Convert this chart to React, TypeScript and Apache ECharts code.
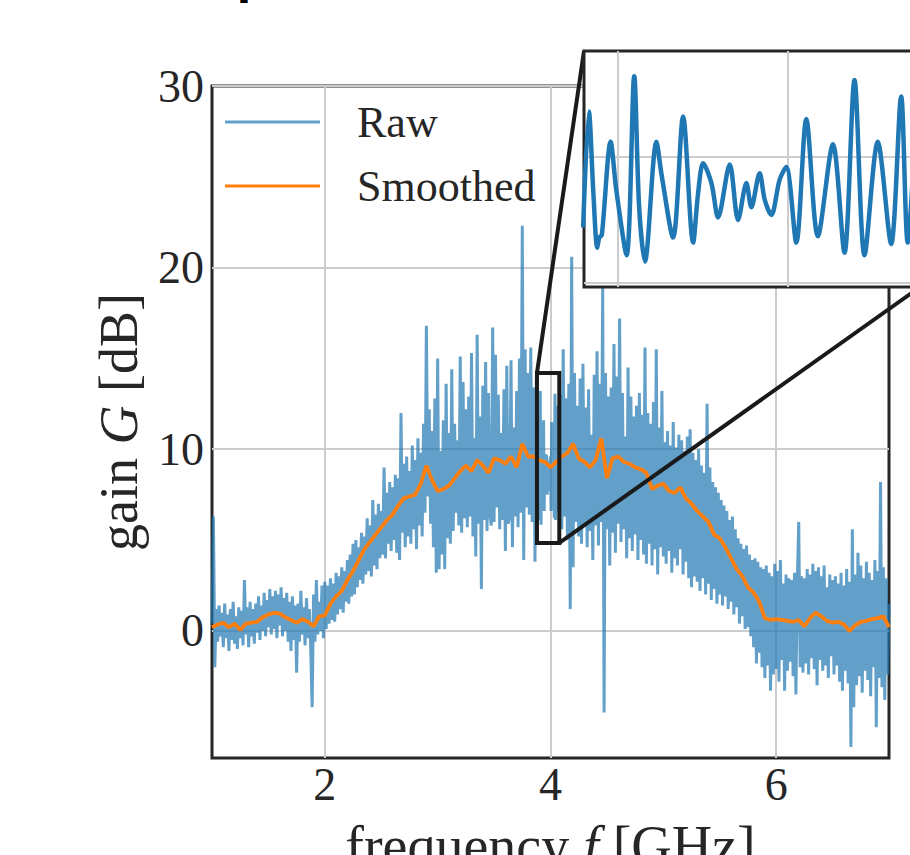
import { useEffect, useRef } from 'react';
import * as echarts from 'echarts';

// ---------- data ----------
// Raw gain [dB], sampled every 0.0125 GHz
const RAW_STEP = 0.0125;
const RAW_A_START = 1.0; // 1.000 .. 3.875 GHz
const rawGainA = [
  0.4, 6.3, -2.0, 1.2, -0.6, 1.4, -0.3, 1.0, -0.9, 1.5, -0.4, 0.9, -1.1, 1.2, -0.5, 1.6, -0.7, 0.8, -1.0, 1.3,
  -0.4, 1.1, -0.8, 2.8, -0.2, 1.3, -0.9, 1.6, -0.3, 1.2, -0.7, 1.5, -0.1, 1.9, -0.5, 1.4, 0.0, 2.1, -0.3, 1.7,
  0.2, 2.3, -0.2, 1.9, 0.1, 2.2, -0.4, 2.0, 0.3, 2.4, -0.3, 1.8, 0.0, 2.1, -0.6, 1.6, -1.1, 1.9, -0.5, 1.4,
  -2.3, 1.5, -0.6, 2.2, -0.2, 1.3, -0.8, 1.8, -0.4, 1.2, -1.0, -4.2, 2.0, -0.6, 2.8, -0.2, 1.6, 0.0, 2.5, -0.4,
  2.7, 0.1, 2.5, 0.4, 2.9, 0.6, 2.6, 0.5, 3.2, 0.9, 3.0, 1.2, 3.5, 1.0, 3.3, 1.6, 3.9, 1.5, 4.2, 1.9,
  4.8, 2.0, 5.0, 2.4, 4.6, 2.8, 5.4, 2.6, 5.2, 3.1, 6.2, 3.3, 5.8, 3.0, 7.2, 3.6, 6.4, 3.4, 7.0, 4.0,
  6.6, 4.2, 9.0, 4.0, 7.6, 4.8, 8.2, 4.4, 7.9, 5.0, 8.6, 4.3, 8.4, 3.9, 12.0, 5.4, 9.2, 4.6, 9.6, 5.2,
  8.8, 4.8, 10.2, 5.6, 9.4, 4.5, 10.6, 5.8, 9.8, 5.2, 11.4, 6.5, 16.8, 7.4, 12.2, 5.9, 11.0, 4.6, 12.8, 3.2,
  15.0, 3.4, 9.9, 4.2, 11.6, 3.4, 13.6, 5.1, 10.9, 4.8, 14.4, 5.5, 11.4, 6.5, 10.5, 5.8, 15.1, 5.4, 13.7, 6.2,
  12.2, 5.7, 12.9, 6.3, 15.3, 5.2, 10.6, 4.1, 16.3, 5.9, 11.8, 2.3, 13.5, 6.1, 14.8, 5.5, 13.1, 6.4, 5.8, 16.7,
  6.0, 15.2, 6.8, 13.0, 5.6, 10.9, 6.1, 13.3, 4.4, 14.6, 5.9, 6.2, 14.9, 4.6, 11.2, 6.3, 13.2, 5.7, 15.0, 6.5,
  22.3, 3.9, 15.5, 6.8, 14.2, 6.4, 15.6, 6.0, 13.4, 3.8, 13.9,
];
const RAW_B_START = 4.0875; // 4.0875 .. 7.000 GHz
const rawGainB = [
  13.0, 5.6, 15.5, 6.3, 12.8, 5.0, 13.6, 1.2, 20.6, 3.5, 14.2, 6.0, 12.4,
  5.2, 13.9, 4.8, 14.7, 5.9, 12.3, 4.6, 13.3, 5.5, 10.8, 3.9, 14.1, 5.8, 15.4, 4.7, 13.6, 6.0, 18.9, -4.5, 14.2,
  5.6, 12.9, 3.6, 13.4, 5.4, 15.8, 4.3, 14.0, 5.9, 17.2, 4.9, 13.1, 5.6, 10.7, 4.0, 14.5, 5.1, 12.9, 4.4, 11.8,
  5.3, 12.4, 3.9, 13.1, 5.0, 11.9, 4.2, 15.6, 3.7, 12.0, 4.8, 11.4, 3.6, 12.6, 4.5, 15.5, 3.1, 11.2, 4.6, 13.2,
  4.1, 10.4, 3.7, 11.0, 4.4, 10.2, 3.2, 11.5, 4.0, 10.1, 3.6, 10.8, 4.5, 10.5, 3.1, 9.9, 3.8, 10.7, 2.9, 11.1,
  2.4, 9.8, 3.0, 9.4, 2.7, 10.0, 2.2, 9.1, 2.9, 8.7, 2.0, 12.5, 2.6, 9.0, 1.7, 8.2, 2.3, 7.9, 1.5, 7.6,
  2.0, 7.2, 1.4, 6.9, 1.9, 6.6, 1.2, 6.1, 1.6, 6.3, 0.9, 5.6, 1.3, 5.1, 0.4, 4.8, 0.8, 4.5, 0.1, 4.7,
  0.2, 4.2, -0.3, 3.9, -0.9, 4.0, -1.8, 3.8, -1.2, 3.5, -2.0, 3.4, -2.6, 3.6, -1.9, 3.2, -3.3, 3.0, -2.4, 3.7,
  -2.1, 3.3, -2.8, 3.9, -1.6, 2.6, -3.3, 3.1, -2.2, 2.9, -1.7, 2.8, -2.5, 3.2, -3.5, 2.7, 6.0, -2.0, 3.0, -2.3,
  2.9, -1.8, 3.4, -2.4, 3.1, -1.5, 3.7, -2.1, 3.3, -3.0, 3.5, -1.6, 3.0, -2.2, 3.6, -1.9, 2.4, -2.6, 3.1, -1.4,
  2.8, -2.4, 3.0, -1.9, 2.6, -2.8, 3.2, -3.3, 2.5, -2.2, 3.4, -2.9, 2.7, -6.4, 5.6, -4.2, 3.1, -3.0, 4.3, -2.5,
  3.6, -3.4, 2.9, -2.2, 3.8, -2.7, 3.2, -3.6, 2.8, -2.0, 3.9, -5.3, 3.3, -2.6, 8.2, -3.1, 3.5, -3.8, 2.9, -2.4,
  1.5,
];
// Fine-resolution raw data inside the zoomed window (shown in the inset)
const insetFreq = [
  3.8795, 3.8829, 3.8855, 3.8878, 3.889, 3.8905, 3.8957, 3.899, 3.9051, 3.9096, 3.9125, 3.9159, 3.9227, 3.9257,
  3.9325, 3.9384, 3.9443, 3.9473, 3.9502, 3.9551, 3.959, 3.9659, 3.9708, 3.9757, 3.9786, 3.9835, 3.9865, 3.9904,
  3.9953, 3.9992, 4.0051, 4.011, 4.0178, 4.0267, 4.0335, 4.0394, 4.0453, 4.0531, 4.061, 4.0669, 4.0708, 4.076, 4.08,
];
const insetGain = [
  7.2, 11.8, 8.6, 6.4, 6.8, 6.9, 10.6, 8.7, 6.1, 13.2, 8.0, 5.85, 10.6, 9.3,
  6.8, 11.6, 6.6, 8.6, 9.75, 8.96, 7.6, 9.7, 7.5, 8.96, 8.0, 9.35, 8.3, 7.7,
  9.1, 9.6, 6.6, 11.5, 6.85, 10.5, 6.2, 13.05, 6.1, 10.6, 6.55, 12.4, 6.6, 10.8, 7.0,
];
// Smoothed gain [dB], every 0.05 GHz from 1.0 to 7.0
const SMOOTH_START = 1.0;
const SMOOTH_STEP = 0.05;
const smoothedGain = [
  0.2, 0.35, 0.45, 0.2, 0.4, 0.05, 0.4, 0.45, 0.5, 0.75,
  0.9, 1.0, 0.95, 0.75, 0.6, 0.45, 0.65, 0.5, 0.25, 0.8,
  0.85, 1.5, 1.9, 2.2, 2.8, 3.3, 3.9, 4.5, 4.9, 5.3,
  5.7, 6.1, 6.4, 6.9, 7.3, 7.4, 7.5, 8.1, 9.1, 8.3,
  7.7, 7.8, 8.0, 8.4, 8.8, 9.1, 8.8, 9.4, 9.1, 8.7,
  9.5, 9.4, 9.2, 9.6, 9.0, 10.3, 9.6, 9.6, 9.4, 9.3,
  9.0, 9.3, 9.6, 9.8, 10.3, 9.5, 9.3, 9.0, 9.4, 10.6,
  8.4, 9.5, 9.6, 9.3, 9.2, 9.0, 8.9, 8.7, 7.8, 8.0,
  8.1, 7.7, 7.6, 7.9, 7.3, 7.0, 6.6, 6.3, 6.0, 5.3,
  5.1, 4.6, 4.0, 3.4, 3.0, 2.4, 2.1, 1.6, 0.7, 0.6,
  0.65, 0.6, 0.55, 0.5, 0.6, 0.25, 0.7, 1.0, 0.8, 0.55,
  0.45, 0.5, 0.35, 0.0, 0.3, 0.5, 0.55, 0.65, 0.7, 0.8,
  0.2,
];
const seriesNames = ['Raw', 'Smoothed'];
const xTicks = [2, 4, 6];
const yTicks = [0, 10, 20, 30];
const X_RANGE = [1, 7];
const Y_RANGE = [-7, 30];
const INSET_X = [3.88, 4.078];
const INSET_Y = [4.84, 14.2];
const insetXTicks = [3.9, 4.0];
const insetYTicks = [5, 10];
const TITLE = 'Gain spectrum, raw and smoothed';

const SERIF = '"Liberation Serif", "Times New Roman", serif';
const TXT = '#262626';

export default function App() {
  const ref = useRef<HTMLDivElement>(null);

  useEffect(() => {
    const chart = echarts.init(ref.current!, null, { renderer: 'svg' });

    const toPts = (start: number, step: number, arr: number[]) =>
      arr.map((g, i) => [Number((start + i * step).toFixed(4)), g]);
    const rawA = toPts(RAW_A_START, RAW_STEP, rawGainA);
    const rawB = toPts(RAW_B_START, RAW_STEP, rawGainB);
    const fine = insetFreq.map((f, i) => [f, insetGain[i]]);
    const rawAll = [...rawA, ...fine, ...rawB];
    const smooth = toPts(SMOOTH_START, SMOOTH_STEP, smoothedGain);

    const nameRich = (size: number) => ({
      n: { fontFamily: SERIF, fontSize: size, color: TXT },
      i: { fontFamily: SERIF, fontSize: size, color: TXT, fontStyle: 'italic' },
    });
    const gridLine = { show: true, lineStyle: { color: '#cccccc', width: 2 } };

    chart.setOption({
      animation: false,
      backgroundColor: '#ffffff',
      grid: [
        {
          left: 212, top: 86, width: 677, height: 672, show: true,
          borderColor: TXT, borderWidth: 3, backgroundColor: 'transparent',
          containLabel: false, outerBoundsMode: 'none',
        },
        {
          left: 584, top: 51, width: 336, height: 236, show: true, z: 10,
          borderColor: TXT, borderWidth: 3, backgroundColor: '#ffffff',
          containLabel: false, outerBoundsMode: 'none',
        },
      ],
      legend: {
        data: seriesNames,
        orient: 'vertical',
        left: 225,
        top: 97,
        padding: 0,
        icon: 'rect',
        itemWidth: 95,
        itemHeight: 3,
        itemGap: 14,
        selectedMode: false,
        textStyle: { fontFamily: SERIF, fontSize: 44, color: TXT, lineHeight: 50, padding: [0, 0, 0, 32] },
      },
      xAxis: [
        {
          type: 'value', gridIndex: 0, min: X_RANGE[0], max: X_RANGE[1],
          axisLine: { show: false },
          axisTick: { show: false, customValues: xTicks },
          axisLabel: { customValues: xTicks, fontFamily: SERIF, fontSize: 46, color: TXT, margin: 3 },
          splitLine: gridLine,
          name: '{n|frequency }{i|f}{n| [GHz]}',
          nameLocation: 'middle',
          nameGap: 60,
          nameTextStyle: { fontFamily: SERIF, fontSize: 56, color: TXT, rich: nameRich(56) },
        },
        {
          type: 'value', gridIndex: 1, min: INSET_X[0], max: INSET_X[1], z: 11,
          axisLine: { show: false },
          axisTick: { show: false, customValues: insetXTicks },
          axisLabel: { show: false, customValues: insetXTicks },
          splitLine: gridLine,
        },
      ],
      yAxis: [
        {
          type: 'value', gridIndex: 0, min: Y_RANGE[0], max: Y_RANGE[1],
          axisLine: { show: false },
          axisTick: { show: false, customValues: yTicks },
          axisLabel: {
            customValues: yTicks, fontFamily: SERIF, fontSize: 46, color: TXT, margin: 8,
            padding: [0, 0, 10, 0],
          },
          splitLine: gridLine,
          name: '{n|gain }{i|G}{n| [dB]}',
          nameLocation: 'middle',
          nameRotate: 90,
          nameGap: 66,
          nameTextStyle: { fontFamily: SERIF, fontSize: 54, color: TXT, rich: nameRich(54) },
        },
        {
          type: 'value', gridIndex: 1, min: INSET_Y[0], max: INSET_Y[1], z: 11,
          axisLine: { show: false },
          axisTick: { show: false, customValues: insetYTicks },
          axisLabel: { show: false, customValues: insetYTicks },
          splitLine: gridLine,
        },
      ],
      series: [
        {
          name: seriesNames[0], type: 'line', xAxisIndex: 0, yAxisIndex: 0,
          data: rawAll, symbol: 'none', z: 2, silent: true,
          itemStyle: { color: '#1f77b4', opacity: 0.7 },
          lineStyle: { color: '#1f77b4', width: 3, opacity: 0.7 },
        },
        {
          name: seriesNames[1], type: 'line', xAxisIndex: 0, yAxisIndex: 0,
          data: smooth, symbol: 'none', z: 3, silent: true,
          itemStyle: { color: '#ff7f0e' },
          lineStyle: { color: '#ff7f0e', width: 3.8 },
        },
        {
          name: 'inset', type: 'line', xAxisIndex: 1, yAxisIndex: 1,
          data: fine, symbol: 'none', z: 12, smooth: 0.3, silent: true,
          lineStyle: { color: '#1f77b4', width: 4.5 },
        },
      ],
    });

    const tl = chart.convertToPixel({ gridIndex: 0 } as any, [INSET_X[0], INSET_Y[1]]) as number[];
    const br = chart.convertToPixel({ gridIndex: 0 } as any, [INSET_X[1], INSET_Y[0]]) as number[];
    const itl = chart.convertToPixel({ gridIndex: 1 } as any, [INSET_X[0], INSET_Y[1]]) as number[];
    const ibr = chart.convertToPixel({ gridIndex: 1 } as any, [INSET_X[1], INSET_Y[0]]) as number[];
    const edge = { stroke: '#1a1a1a', lineWidth: 4 };

    chart.setOption({
      graphic: [
        {
          type: 'rect', z: 5, silent: true,
          shape: { x: tl[0], y: tl[1], width: br[0] - tl[0], height: br[1] - tl[1] },
          style: { fill: 'none', ...edge },
        },
        { type: 'line', z: 5, silent: true, shape: { x1: tl[0], y1: tl[1], x2: itl[0], y2: itl[1] }, style: edge },
        { type: 'line', z: 5, silent: true, shape: { x1: br[0], y1: br[1], x2: ibr[0], y2: ibr[1] }, style: edge },
        {
          type: 'text', x: 90, y: 0, z: 5, silent: true,
          style: {
            text: TITLE, fill: '#000000', fontFamily: '"DejaVu Sans", sans-serif',
            fontSize: 42, fontWeight: 'bold', verticalAlign: 'bottom',
          },
        },
      ],
    });

    return () => chart.dispose();
  }, []);

  return <div ref={ref} style={{ position: 'absolute', left: 0, top: 0, width: 910, height: 855 }} />;
}
